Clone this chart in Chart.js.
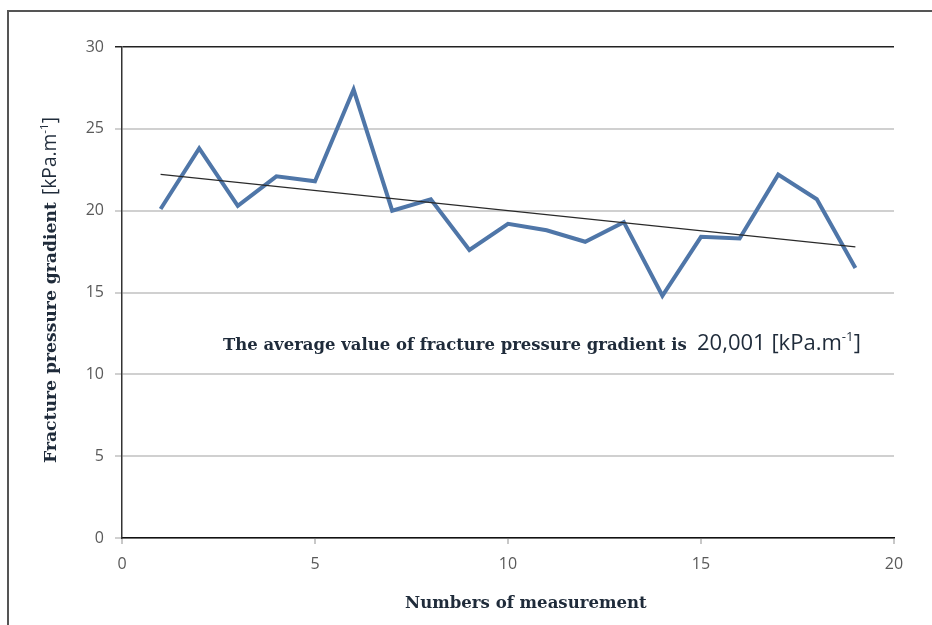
<!DOCTYPE html>
<html>
<head>
<meta charset="utf-8">
<script src="https://cdn.jsdelivr.net/npm/chart.js@4/dist/chart.umd.min.js"></script>
<style>
  html, body { margin: 0; padding: 0; background: #fff; }
  #wrap { position: relative; width: 932px; height: 625px; }
</style>
</head>
<body>
<div id="wrap"><canvas id="c" width="932" height="625"></canvas></div>
<script>
// Measurement numbers and measured fracture pressure gradients [kPa/m]
const measurementNo = [1, 2, 3, 4, 5, 6, 7, 8, 9, 10, 11, 12, 13, 14, 15, 16, 17, 18, 19];
const gradient = [20.1, 23.8, 20.3, 22.1, 21.8, 27.4, 20.0, 20.7, 17.6, 19.2, 18.8, 18.1, 19.3, 14.8, 18.4, 18.3, 22.2, 20.7, 16.5];
const xTicks = [0, 5, 10, 15, 20];
const yTicks = [0, 5, 10, 15, 20, 25, 30];
const averageLabel = '20,001';

// Least-squares linear trend through the measurements
const n = measurementNo.length;
const mx = measurementNo.reduce((a, b) => a + b, 0) / n;
const my = gradient.reduce((a, b) => a + b, 0) / n;
let sxy = 0, sxx = 0;
for (let i = 0; i < n; i++) {
  sxy += (measurementNo[i] - mx) * (gradient[i] - my);
  sxx += (measurementNo[i] - mx) ** 2;
}
const slope = sxy / sxx;
const intercept = my - slope * mx;
const xFirst = measurementNo[0], xLast = measurementNo[n - 1];
const trend = [
  { x: xFirst, y: intercept + slope * xFirst },
  { x: xLast, y: intercept + slope * xLast }
];

const SERIF = '"DejaVu Serif"';
const SANS = '"Open Sans"';
const titleColor = '#1f2b3a';

// font size that makes a string span the given width
function fitSize(ctx, text, weight, family, width) {
  ctx.font = `${weight} 20px ${family}`;
  return 20 * width / ctx.measureText(text).width;
}

const decorations = {
  id: 'decorations',
  beforeDraw(chart) {
    const ctx = chart.ctx;
    ctx.save();
    ctx.fillStyle = '#ffffff';
    ctx.fillRect(0, 0, chart.width, chart.height);
    // outer frame
    ctx.strokeStyle = '#555';
    ctx.lineWidth = 2;
    ctx.beginPath();
    ctx.moveTo(8, chart.height);
    ctx.lineTo(8, 11);
    ctx.lineTo(chart.width, 11);
    ctx.stroke();
    ctx.restore();
  },
  afterDraw(chart) {
    const ctx = chart.ctx;
    ctx.save();
    ctx.fillStyle = titleColor;
    ctx.textBaseline = 'alphabetic';
    ctx.textAlign = 'left';

    // "[kPa.m" + superscript "-1" + "]" starting at x, returns end x
    function unit(prefix, x, y, size) {
      ctx.font = `${size}px ${SANS}`;
      ctx.fillText(prefix + '[kPa.m', x, y);
      x += ctx.measureText(prefix + '[kPa.m').width;
      ctx.font = `${size * 0.6}px ${SANS}`;
      ctx.fillText('-1', x, y - size * 0.42);
      x += ctx.measureText('-1').width;
      ctx.font = `${size}px ${SANS}`;
      ctx.fillText(']', x, y);
      return x + ctx.measureText(']').width;
    }
    function unitWidth(prefix, size) {
      ctx.font = `${size}px ${SANS}`;
      let w = ctx.measureText(prefix + '[kPa.m]').width;
      ctx.font = `${size * 0.6}px ${SANS}`;
      return w + ctx.measureText('-1').width;
    }

    // average annotation
    const avgText = 'The average value of fracture pressure gradient is';
    const avgSize = fitSize(ctx, avgText, 'bold', SERIF, 464);
    ctx.font = `bold ${avgSize}px ${SERIF}`;
    ctx.fillText(avgText, 223, 350);
    const avgUnitSize = 21 * 164 / unitWidth(averageLabel + ' ', 21);
    unit(averageLabel + ' ', 697, 350, avgUnitSize);

    // y axis title (rotated)
    const yText = 'Fracture pressure gradient';
    const ySize = fitSize(ctx, yText, 'bold', SERIF, 261);
    const yUnitSize = 14.5 * 78 / unitWidth('', 14.5);
    ctx.save();
    ctx.translate(56, 463);
    ctx.rotate(-Math.PI / 2);
    ctx.font = `bold ${ySize}px ${SERIF}`;
    ctx.fillText(yText, 0, 0);
    unit('', 268, 0, yUnitSize);
    ctx.restore();

    // x axis title
    const xText = 'Numbers of measurement';
    const xSize = fitSize(ctx, xText, 'bold', SERIF, 242);
    ctx.font = `bold ${xSize}px ${SERIF}`;
    ctx.fillText(xText, 405, 608);
    ctx.restore();
  }
};

new Chart(document.getElementById('c'), {
  type: 'line',
  data: {
    datasets: [
      {
        label: 'Fracture pressure gradient',
        data: measurementNo.map((x, i) => ({ x, y: gradient[i] })),
        borderColor: '#4f76a8',
        borderWidth: 4,
        pointRadius: 0,
        tension: 0,
        order: 2
      },
      {
        label: 'Linear trend',
        data: trend,
        borderColor: '#2a2a2a',
        borderWidth: 1.3,
        pointRadius: 0,
        order: 1
      }
    ]
  },
  options: {
    responsive: false,
    animation: false,
    devicePixelRatio: 1,
    layout: { padding: { left: 0, right: 38, top: 47, bottom: 0 } },
    plugins: {
      legend: { display: false },
      tooltip: { enabled: false }
    },
    scales: {
      x: {
        type: 'linear',
        min: xTicks[0],
        max: xTicks[xTicks.length - 1],
        afterBuildTicks(scale) { scale.ticks = xTicks.map(v => ({ value: v })); },
        afterFit(scale) { scale.height = 87; },
        border: { display: true, color: '#111', width: 1.5 },
        grid: { drawOnChartArea: false, drawTicks: true, tickLength: 6, color: '#c8c8c8', lineWidth: 2 },
        ticks: { color: '#5a5a5a', font: { family: SANS, size: 16 }, padding: 11, maxRotation: 0 }
      },
      y: {
        type: 'linear',
        min: yTicks[0],
        max: yTicks[yTicks.length - 1],
        afterBuildTicks(scale) { scale.ticks = yTicks.map(v => ({ value: v })); },
        afterFit(scale) { scale.width = 122; },
        border: { display: true, color: '#333', width: 1.5 },
        grid: {
          drawTicks: true,
          tickLength: 7,
          color: ctx => (ctx.tick && ctx.tick.value === 30) ? '#222' : '#d0d0d0',
          lineWidth: ctx => (ctx.tick && ctx.tick.value === 30) ? 1.5 : 2
        },
        ticks: { color: '#5a5a5a', font: { family: SANS, size: 16 }, padding: 11 }
      }
    }
  },
  plugins: [decorations]
});
</script>
</body>
</html>
